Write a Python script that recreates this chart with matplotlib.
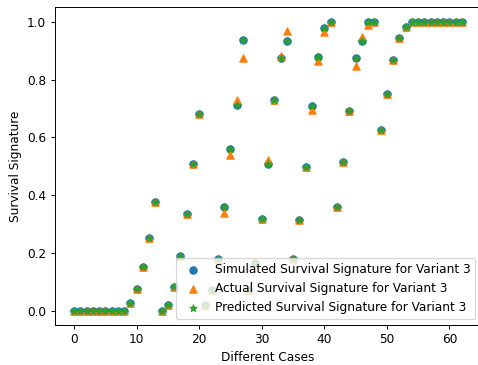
import matplotlib
matplotlib.use("Agg")
import matplotlib.pyplot as plt
import numpy as np

cases = list(range(63))

simulated = [0, 0, 0, 0, 0, 0, 0, 0, 0, 0.025, 0.075, 0.15, 0.25, 0.375,
             0.0, 0.02, 0.08, 0.19, 0.334, 0.507, 0.68,
             0.02, 0.07, 0.18, 0.357, 0.56, 0.713, 0.938,
             0.07, 0.164, 0.318, 0.509, 0.728, 0.873, 0.934,
             0.18, 0.314, 0.498, 0.708, 0.877, 0.98, 1.0,
             0.357, 0.513, 0.69, 0.873, 0.934, 1.0, 1.0,
             0.625, 0.75, 0.866, 0.944, 0.982,
             1.0, 1.0, 1.0, 1.0, 1.0, 1.0, 1.0, 1.0, 1.0]

actual = [0, 0, 0, 0, 0, 0, 0, 0, 0, 0.025, 0.075, 0.15, 0.25, 0.375,
          0.0, 0.02, 0.08, 0.19, 0.334, 0.507, 0.68,
          0.02, 0.07, 0.18, 0.339, 0.538, 0.728, 0.875,
          0.07, 0.164, 0.318, 0.523, 0.728, 0.883, 0.969,
          0.18, 0.314, 0.498, 0.696, 0.863, 0.963, 1.0,
          0.357, 0.513, 0.69, 0.846, 0.946, 0.99, 1.0,
          0.625, 0.75, 0.866, 0.944, 0.982,
          1.0, 1.0, 1.0, 1.0, 1.0, 1.0, 1.0, 1.0, 1.0]

predicted = list(simulated)

DPI = 87
fig = plt.figure(figsize=(478 / DPI, 365 / DPI), dpi=DPI)
ax = fig.add_axes([0.1144, 0.1096, 0.8925, 0.8704])

ax.scatter(cases, simulated, marker='o', color='#1f77b4',
           label='Simulated Survival Signature for Variant 3')
ax.scatter(cases, actual, marker='^', color='#ff7f0e',
           label='Actual Survival Signature for Variant 3')
ax.scatter(cases, predicted, marker='*', color='#2ca02c',
           label='Predicted Survival Signature for Variant 3')

ax.set_xlabel('Different Cases')
ax.set_ylabel('Survival Signature')
ax.set_xticks([0, 10, 20, 30, 40, 50, 60])
ax.set_yticks([0.0, 0.2, 0.4, 0.6, 0.8, 1.0])
ax.legend(loc='lower right')

fig.savefig('out.png', dpi=DPI)
